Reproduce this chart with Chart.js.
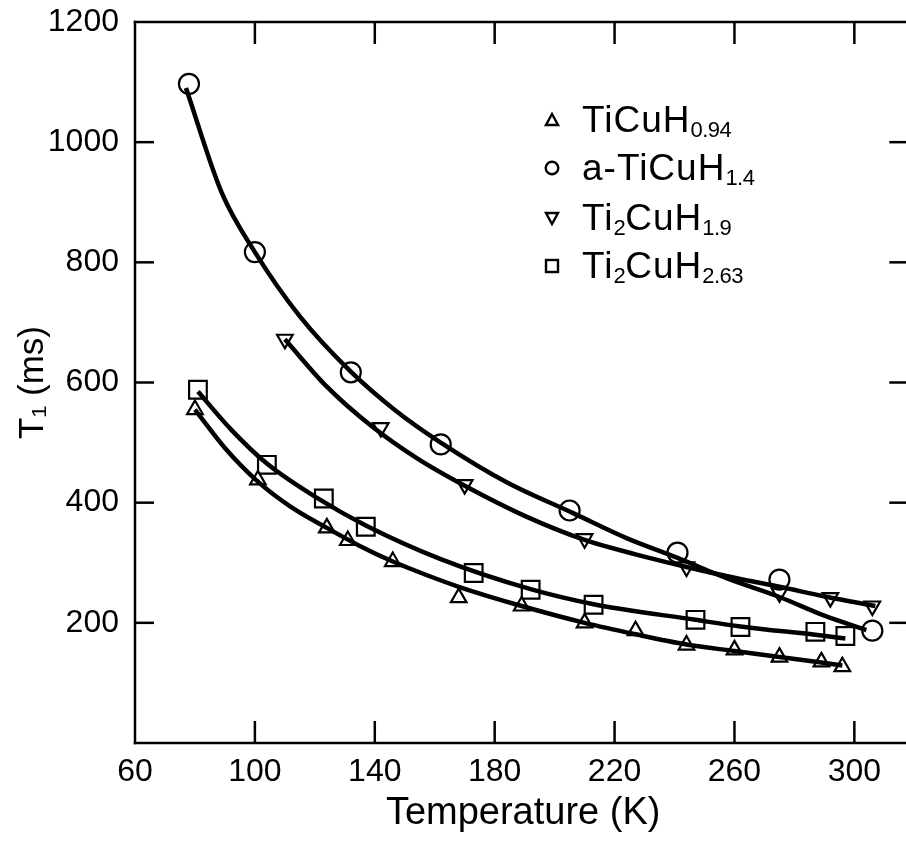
<!DOCTYPE html>
<html>
<head>
<meta charset="utf-8">
<script src="https://cdn.jsdelivr.net/npm/chart.js"></script>
<style>
  html, body { margin: 0; padding: 0; background: #fff; overflow: hidden; }
  #wrap { position: relative; width: 906px; height: 842px; overflow: hidden; }
  #c { position: absolute; left: 0; top: 0; }
  .lrow { position: absolute; left: 582px; font-family: "Liberation Sans", Arial, sans-serif;
          font-size: 37px; line-height: 37px; color: #000; white-space: nowrap; letter-spacing: 1px; }
  .lrow .s { font-size: 22px; position: relative; top: 5px; letter-spacing: -0.5px; }
  .lmark { position: absolute; }
</style>
</head>
<body>
<div id="wrap">
  <canvas id="c" width="926" height="842"></canvas>
  <svg class="lmark" style="left:543px;top:111px" width="18" height="18" viewBox="0 0 18 18"><polygon points="9,3 15,14 3,14" fill="#fff" stroke="#000" stroke-width="2.4"/></svg>
  <svg class="lmark" style="left:543px;top:159px" width="18" height="18" viewBox="0 0 18 18"><circle cx="9" cy="9" r="6.3" fill="#fff" stroke="#000" stroke-width="2.4"/></svg>
  <svg class="lmark" style="left:543px;top:209px" width="18" height="18" viewBox="0 0 18 18"><polygon points="3,4 15,4 9,15" fill="#fff" stroke="#000" stroke-width="2.4"/></svg>
  <svg class="lmark" style="left:543px;top:257px" width="18" height="18" viewBox="0 0 18 18"><rect x="3" y="3" width="12" height="12" fill="#fff" stroke="#000" stroke-width="2.4"/></svg>
  <div class="lrow" style="top:101px">TiCuH<span class="s">0.94</span></div>
  <div class="lrow" style="top:149px">a-TiCuH<span class="s">1.4</span></div>
  <div class="lrow" style="top:199px">Ti<span class="s">2</span>CuH<span class="s">1.9</span></div>
  <div class="lrow" style="top:247px">Ti<span class="s">2</span>CuH<span class="s">2.63</span></div>
</div>
<script>
// ---- axis ticks ----
const xTicks = [60, 100, 140, 180, 220, 260, 300];
const yTicks = [200, 400, 600, 800, 1000, 1200];

// ---- measured points ----
const triT = [80, 101, 124, 131, 146, 168, 189, 210, 227, 244, 260, 275, 289, 296];
const triV = [555, 438, 358, 337, 302, 242, 228, 200, 187, 163, 155, 143, 135, 127];

const circT = [78, 100, 132, 162, 205, 241, 275, 306];
const circV = [1097, 817, 617, 497, 387, 317, 272, 187];

const invT = [110, 142, 170, 210, 244, 275, 292, 306];
const invV = [672, 525, 430, 340, 293, 250, 242, 228];

const sqT = [81, 104, 123, 137, 173, 192, 213, 247, 262, 287, 297];
const sqV = [588, 463, 407, 360, 283, 255, 230, 205, 193, 185, 178];

// ---- fitted curves ----
const fitTriT = [80, 90, 101, 112, 124, 135, 146, 157, 168, 189, 210, 227, 244, 260, 275, 289, 296];
const fitTriV = [555, 491, 435, 393, 358, 328, 302, 280, 260, 228, 200, 181, 164, 153, 143, 134, 129];

const fitCircT = [77, 89, 100, 115, 132, 147, 162, 184, 206, 224, 241, 258, 275, 290, 304];
const fitCircV = [1090, 915, 817, 710, 618, 553, 500, 434, 383, 341, 308, 273, 243, 212, 188];

const fitInvT = [110, 124, 139, 154, 170, 190, 210, 227, 244, 260, 275, 291, 307];
const fitInvV = [672, 593, 527, 474, 428, 378, 338, 314, 293, 275, 260, 243, 228];

const fitSqT = [81, 92, 104, 121, 137, 162, 192, 213, 247, 262, 287, 297];
const fitSqV = [585, 522, 465, 407, 362, 306, 256, 231, 205, 194, 180, 174];

const seriesNames = ['TiCuH0.94', 'a-TiCuH1.4', 'Ti2CuH1.9', 'Ti2CuH2.63'];

const pts = (t, v) => t.map((x, i) => ({ x: x, y: v[i] }));

const xMin = 60, xMax = 60 + (912 - 135) / 3, yMin = 0, yMax = 1200;

function fitDs(t, v) {
  return { data: pts(t, v), showLine: true, pointRadius: 0, borderColor: '#000',
           borderWidth: 4.5, cubicInterpolationMode: 'monotone', fill: false, order: 1 };
}
function markDs(label, t, v, style, r, rot) {
  return { label: label, data: pts(t, v), showLine: false, pointStyle: style, pointRadius: r,
           pointRotation: rot || 0, backgroundColor: '#fff', borderColor: '#000',
           pointBorderWidth: 2.2, order: 2 };
}

const framePlugin = {
  id: 'frame',
  afterDraw(chart) {
    const { ctx, chartArea: { left, right, top, bottom }, scales: { x, y } } = chart;
    ctx.save();
    ctx.strokeStyle = '#000';
    ctx.lineWidth = 2.5;
    ctx.lineCap = 'square';
    const seg = (a, b, c, d) => { ctx.beginPath(); ctx.moveTo(a, b); ctx.lineTo(c, d); ctx.stroke(); };
    seg(left, top, right, top);
    seg(left, top, left, bottom);
    seg(left, bottom, right, bottom);
    ctx.lineCap = 'butt';
    xTicks.forEach(v => {
      if (v <= xMin) return;
      const px = x.getPixelForValue(v);
      seg(px, bottom, px, bottom - 22);
      seg(px, top, px, top + 22);
    });
    yTicks.forEach(v => {
      if (v >= yMax) return;
      const py = y.getPixelForValue(v);
      seg(left, py, left + 19, py);
      seg(right - 4, py, right - 22, py);
    });
    ctx.restore();
  }
};

const font = "'Liberation Sans', Arial, sans-serif";

new Chart(document.getElementById('c'), {
  type: 'scatter',
  data: {
    datasets: [
      fitDs(fitTriT, fitTriV),
      fitDs(fitCircT, fitCircV),
      fitDs(fitInvT, fitInvV),
      fitDs(fitSqT, fitSqV),
      markDs(seriesNames[0], triT, triV, 'triangle', 9),
      markDs(seriesNames[1], circT, circV, 'circle', 10),
      markDs(seriesNames[2], invT, invV, 'triangle', 9, 180),
      markDs(seriesNames[3], sqT, sqV, 'rect', 12.5)
    ]
  },
  options: {
    responsive: false,
    animation: false,
    events: [],
    layout: { padding: { top: 22, right: 14, left: 0, bottom: 0 } },
    plugins: { legend: { display: false }, tooltip: { enabled: false } },
    scales: {
      x: {
        type: 'linear', min: xMin, max: xMax,
        afterBuildTicks: s => { s.ticks = xTicks.map(v => ({ value: v })); },
        afterFit: s => { s.height = 99; s.paddingLeft = 0; s.paddingRight = 0; },
        grid: { display: false, drawTicks: false },
        border: { display: false },
        ticks: { color: '#000', font: { family: font, size: 32 }, padding: 10, maxRotation: 0,
                 autoSkip: false, callback: v => String(v) },
        title: { display: true, text: 'Temperature (K)', color: '#000',
                 font: { family: font, size: 38 }, padding: { top: 0, bottom: 6 } }
      },
      y: {
        type: 'linear', min: yMin, max: yMax,
        afterBuildTicks: s => { s.ticks = yTicks.map(v => ({ value: v })); },
        afterFit: s => { s.width = 135; s.paddingTop = 0; s.paddingBottom = 0; },
        grid: { display: false, drawTicks: false },
        border: { display: false },
        ticks: { color: '#000', font: { family: font, size: 32 }, padding: 16, autoSkip: false,
                 callback: v => String(v) },
        title: { display: true, text: 'T\u2081 (ms)', color: '#000',
                 font: { family: font, size: 35 }, padding: { top: 12, bottom: 0 } }
      }
    }
  },
  plugins: [framePlugin]
});
</script>
</body>
</html>
